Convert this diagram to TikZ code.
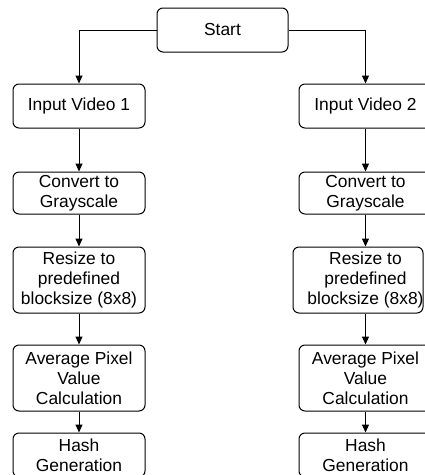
\documentclass[tikz,border=0pt]{standalone}
\usepackage{fontspec}
\setmainfont{Liberation Sans}
\usetikzlibrary{arrows.meta}
\begin{document}
\begin{tikzpicture}[x=1pt,y=-1pt,
  lbl/.style={align=center, inner sep=0pt, font=\fontsize{17.4}{20}\selectfont},
  box/.style={lbl, draw=black, line width=1pt, rounded corners=6pt, minimum width=132pt},
  arr/.style={draw=black, line width=1pt, -{Triangle[length=8pt,width=7pt]}}
]
\useasboundingbox (0,0) rectangle (425,475);
\clip (0,0) rectangle (425,475);
% start
\node[box, minimum width=131pt, minimum height=44pt] (start) at (222.5,30) {Start};
% left column
\node[box, minimum height=44pt] (i1) at (79,106) {Input Video 1};
\node[box, minimum height=42pt] (c1) at (79,193) {Convert to\\Grayscale};
\node[box, minimum height=66pt] (r1) at (79,280) {Resize to\\predefined\\blocksize (8x8)};
\node[box, minimum height=66pt] (a1) at (79,378) {Average Pixel\\Value\\Calculation};
\node[box, minimum height=44pt] (h1) at (79,455) {Hash\\Generation};
% right column
\node[box, minimum width=133pt, minimum height=44pt] (i2) at (365.5,106) {Input Video 2};
\node[box, minimum width=133pt, minimum height=42pt] (c2) at (365.5,193) {Convert to\\Grayscale};
\node[box, minimum width=130pt, minimum height=66pt] (r2) at (358,280) {};
\node[lbl] (r2t) at (365.5,280) {Resize to\\predefined\\blocksize (8x8)};
\node[box, minimum width=133pt, minimum height=66pt] (a2) at (365.5,378) {Average Pixel\\Value\\Calculation};
\node[box, minimum width=133pt, minimum height=44pt] (h2) at (365.5,455) {Hash\\Generation};
% connectors
\draw[arr] (start.west) -| (i1.north);
\draw[arr] (start.east) -| (i2.north);
\draw[arr] (i1) -- (c1);
\draw[arr] (c1) -- (r1);
\draw[arr] (r1) -- (a1);
\draw[arr] (a1) -- (h1);
\draw[arr] (i2) -- (c2);
\draw[arr] (c2.south) -- (c2.south |- r2.north);
\draw[arr] (c2.south |- r2.south) -- (a2.north);
\draw[arr] (a2) -- (h2);
\end{tikzpicture}
\end{document}
